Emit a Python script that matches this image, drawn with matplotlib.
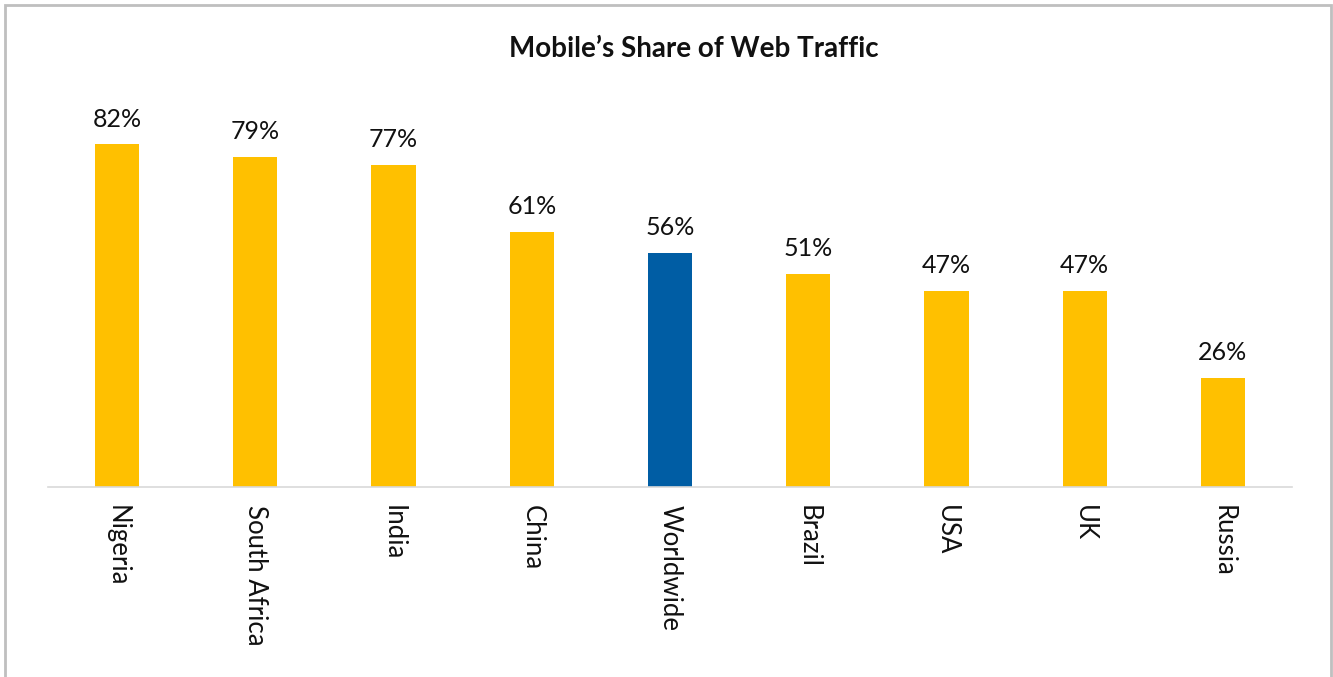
import matplotlib.pyplot as plt
from matplotlib.patches import Rectangle

# Mobile share of web traffic per country (%)
countries = ['Nigeria', 'South Africa', 'India', 'China', 'Worldwide',
             'Brazil', 'USA', 'UK', 'Russia']
share = [82, 79, 77, 61, 56, 51, 47, 47, 26]
highlight = 'Worldwide'

YELLOW = '#FFC000'
BLUE = '#005DA4'

plt.rcParams['font.family'] = ['Lato', 'DejaVu Sans']

fig = plt.figure(figsize=(13.33, 6.77), dpi=100)
ax = fig.add_axes([48 / 1333, (677 - 487) / 677, (1292 - 48) / 1333, 376 / 677])

colors = [BLUE if c == highlight else YELLOW for c in countries]
x = range(len(countries))
bars = ax.bar(x, share, width=0.32, color=colors)

for b, v in zip(bars, share):
    ax.annotate(f'{v}%', xy=(b.get_x() + b.get_width() / 2, v),
                xytext=(0, 10), textcoords='offset points',
                ha='center', va='bottom', fontsize=18, color='#111111')

ax.set_xlim(-0.5, len(countries) - 0.5)
ax.set_ylim(0, 90)
ax.set_xticks(list(x))
ax.set_xticklabels(countries, rotation=270, fontsize=18.5, color='#111111',
                   va='top', ha='center')
ax.tick_params(axis='x', length=0, pad=13)
ax.set_yticks([])
for side in ['top', 'right', 'left']:
    ax.spines[side].set_visible(False)
ax.spines['bottom'].set_color('#d9d9d9')
ax.spines['bottom'].set_linewidth(1.2)

fig.text(694 / 1333, 1 - 49 / 677, 'Mobile\u2019s Share of Web Traffic',
         ha='center', va='center', fontsize=20, fontweight='bold', color='#111111')

# grey frame around the chart area
fig.patches.append(Rectangle((5 / 1333, -0.05), 1326 / 1333, 1.05 - 5 / 677,
                             transform=fig.transFigure, fill=False,
                             edgecolor='#bfbfbf', linewidth=2))

fig.savefig('out.png', dpi=100)
